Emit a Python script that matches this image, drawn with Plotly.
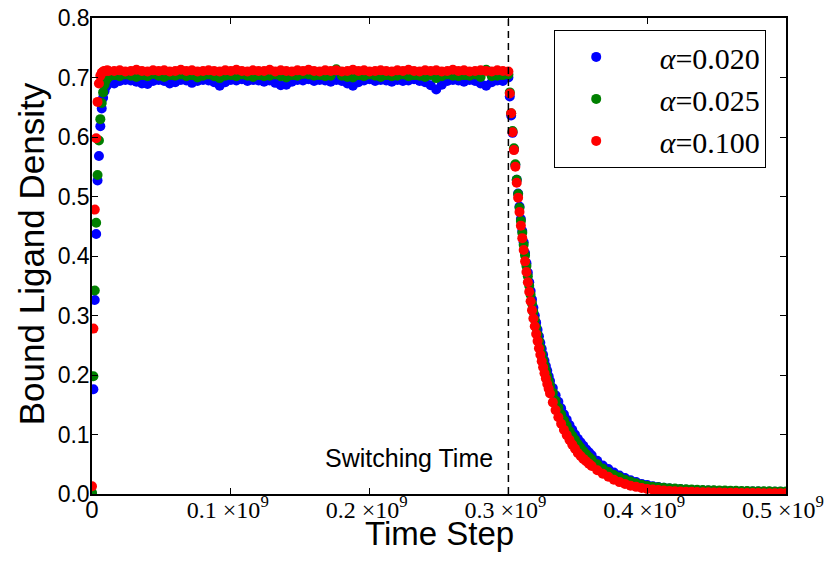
import plotly.graph_objects as go

# ---------------- data (time in units of 10^6 steps) ----------------
SWITCH_TIME_MSTEPS = 300
TIME_MSTEPS = (list(range(0, 13)) + list(range(16, 297, 4)) + list(range(300, 331))
               + list(range(332, 361, 2)) + list(range(364, 501, 4)))

SERIES_LABELS = ["α=0.020", "α=0.025", "α=0.100"]
SERIES_COLORS = ["#0000ff", "#008000", "#ff0000"]

BLUE_020 = (
    # rise (t = 0..12)
    [0.000, 0.176, 0.326, 0.437, 0.527, 0.568, 0.618, 0.648, 0.666, 0.677, 0.684, 0.688, 0.690]
    # plateau (t = 16..296 step 4)
    + [0.690, 0.694, 0.696, 0.695, 0.693, 0.690, 0.689, 0.694, 0.696, 0.694,
       0.690, 0.692, 0.696, 0.695, 0.691, 0.694, 0.696, 0.695, 0.692, 0.686,
       0.692, 0.696, 0.695, 0.697, 0.694, 0.696, 0.695, 0.693, 0.695, 0.691,
       0.687, 0.688, 0.693, 0.696, 0.695, 0.697, 0.694, 0.696, 0.695, 0.693,
       0.696, 0.694, 0.690, 0.686, 0.692, 0.695, 0.697, 0.694, 0.696, 0.695,
       0.693, 0.696, 0.694, 0.695, 0.697, 0.694, 0.692, 0.687, 0.680, 0.688,
       0.694, 0.696, 0.695, 0.693, 0.696, 0.694, 0.690, 0.686, 0.692, 0.695, 0.694]
    # decay (t = 300..330)
    + [0.700, 0.668, 0.636, 0.607, 0.579, 0.553, 0.528, 0.505, 0.483, 0.462,
       0.442, 0.423, 0.405, 0.388, 0.372, 0.356, 0.341, 0.327, 0.313, 0.300,
       0.288, 0.276, 0.265, 0.254, 0.244, 0.234, 0.224, 0.215, 0.207, 0.198, 0.190]
    # t = 332..360 step 2
    + [0.178, 0.166, 0.155, 0.144, 0.134, 0.125, 0.116, 0.108, 0.100, 0.093,
       0.087, 0.081, 0.075, 0.070, 0.065]
    # t = 364..500 step 4
    + [0.056, 0.048, 0.042, 0.036, 0.031, 0.027, 0.023, 0.020, 0.017, 0.015,
       0.0130, 0.0116, 0.0104, 0.0094, 0.0086, 0.0079, 0.0073, 0.0068, 0.0064, 0.0060,
       0.0057, 0.0054, 0.0051, 0.0049, 0.0047, 0.0045, 0.0043, 0.0042, 0.0041, 0.0040,
       0.0039, 0.0038, 0.0037, 0.0036, 0.0035]
)

GREEN_025 = (
    [0.002, 0.198, 0.342, 0.456, 0.536, 0.594, 0.630, 0.657, 0.675, 0.688, 0.695, 0.699, 0.701]
    + [0.704, 0.702, 0.705, 0.703, 0.701, 0.704, 0.702, 0.706, 0.703, 0.701,
       0.704, 0.703, 0.705, 0.702, 0.704, 0.700, 0.703, 0.705, 0.702, 0.699,
       0.703, 0.704, 0.702, 0.705, 0.703, 0.701, 0.704, 0.702, 0.703, 0.705,
       0.702, 0.700, 0.704, 0.703, 0.706, 0.705, 0.703, 0.704, 0.702, 0.703,
       0.714, 0.703, 0.701, 0.700, 0.704, 0.702, 0.705, 0.703, 0.701, 0.704,
       0.702, 0.703, 0.705, 0.702, 0.704, 0.703, 0.701, 0.704, 0.699, 0.702,
       0.705, 0.703, 0.702, 0.704, 0.703, 0.705, 0.701, 0.713, 0.702, 0.703, 0.704]
    + [0.705, 0.675, 0.640, 0.610, 0.581, 0.554, 0.528, 0.504, 0.481, 0.459,
       0.439, 0.419, 0.401, 0.383, 0.366, 0.350, 0.335, 0.320, 0.306, 0.293,
       0.280, 0.268, 0.257, 0.246, 0.235, 0.225, 0.216, 0.207, 0.198, 0.190, 0.182]
    + [0.170, 0.157, 0.145, 0.134, 0.124, 0.115, 0.106, 0.098, 0.091, 0.084,
       0.078, 0.072, 0.067, 0.062, 0.058]
    + [0.050, 0.043, 0.037, 0.032, 0.028, 0.024, 0.021, 0.018, 0.0155, 0.0135,
       0.0122, 0.0112, 0.0104, 0.0097, 0.0091, 0.0085, 0.0080, 0.0076, 0.0072, 0.0068,
       0.0065, 0.0062, 0.0059, 0.0057, 0.0055, 0.0053, 0.0051, 0.0049, 0.0048, 0.0047,
       0.0046, 0.0045, 0.0044, 0.0043, 0.0042]
)

RED_100 = (
    [0.013, 0.278, 0.478, 0.598, 0.659, 0.690, 0.703, 0.708, 0.710, 0.711, 0.711, 0.712, 0.711]
    + [0.711, 0.712, 0.710, 0.711, 0.713, 0.711, 0.710, 0.712, 0.711, 0.712,
       0.710, 0.711, 0.713, 0.711, 0.712, 0.710, 0.711, 0.712, 0.711, 0.710,
       0.712, 0.711, 0.713, 0.711, 0.710, 0.712, 0.711, 0.711, 0.713, 0.710,
       0.712, 0.711, 0.710, 0.712, 0.711, 0.713, 0.711, 0.710, 0.712, 0.711,
       0.712, 0.710, 0.711, 0.713, 0.711, 0.712, 0.710, 0.711, 0.712, 0.711,
       0.710, 0.712, 0.711, 0.713, 0.711, 0.710, 0.712, 0.711, 0.712, 0.710,
       0.711, 0.713, 0.711, 0.712, 0.710, 0.711, 0.712, 0.711, 0.710, 0.712, 0.711]
    + [0.710, 0.673, 0.640, 0.608, 0.578, 0.550, 0.523, 0.498, 0.474, 0.451,
       0.430, 0.410, 0.391, 0.373, 0.356, 0.340, 0.324, 0.309, 0.295, 0.282,
       0.269, 0.257, 0.245, 0.234, 0.223, 0.213, 0.203, 0.194, 0.185, 0.177, 0.169]
    + [0.154, 0.141, 0.129, 0.118, 0.108, 0.099, 0.091, 0.083, 0.076, 0.069,
       0.064, 0.059, 0.055, 0.051, 0.047]
    + [0.040, 0.034, 0.029, 0.024, 0.020, 0.017, 0.014, 0.012, 0.010, 0.0085,
       0.0075, 0.0066, 0.0058, 0.0052, 0.0047, 0.0043, 0.0039, 0.0036, 0.0033, 0.0030,
       0.0028, 0.0026, 0.0024, 0.0022, 0.0021, 0.0019, 0.0018, 0.0017, 0.0016, 0.0015,
       0.0014, 0.0013, 0.0013, 0.0012, 0.0012]
)

X_TICK_VALUES_MSTEPS = [0, 100, 200, 300, 400, 500]
X_TICK_LABELS = ["<span style=\"font-family:'Liberation Sans'\">0</span>",
                 "0.1 ×10<sup>9</sup>\u00a0", "0.2 ×10<sup>9</sup>\u00a0", "0.3 ×10<sup>9</sup>\u00a0",
                 "0.4 ×10<sup>9</sup>\u00a0", "0.5 ×10<sup>9</sup>\u00a0"]
Y_TICK_VALUES = [0.0, 0.1, 0.2, 0.3, 0.4, 0.5, 0.6, 0.7, 0.8]

STEPS_PER_UNIT = 1e6

# ---------------- figure ----------------
time_steps = [t * STEPS_PER_UNIT for t in TIME_MSTEPS]
fig = go.Figure()
for i, (label, color, values) in enumerate(zip(SERIES_LABELS, SERIES_COLORS,
                                                [BLUE_020, GREEN_025, RED_100])):
    assert len(values) == len(TIME_MSTEPS)
    fig.add_trace(go.Scatter(
        x=time_steps, y=values, mode="markers",
        name="\u00a0\u00a0\u00a0<i>α</i>" + label[1:], legendgroup=f"g{i}",
        marker=dict(color=color, size=10, line=dict(width=0)),
    ))

fig.add_vline(x=SWITCH_TIME_MSTEPS * STEPS_PER_UNIT,
              line=dict(color="black", width=1.5, dash="7px,5px"))
fig.add_annotation(x=SWITCH_TIME_MSTEPS * STEPS_PER_UNIT, xref="x", y=0.076, yref="paper",
                   xanchor="right", yanchor="middle", xshift=-13, showarrow=False,
                   text="Switching Time",
                   font=dict(family="Liberation Sans", size=25, color="black"))

# axis titles
fig.add_annotation(x=0.5, xref="paper", y=-0.082, yref="paper", xanchor="center",
                   yanchor="middle", showarrow=False, text="Time Step",
                   font=dict(family="Liberation Sans", size=33, color="black"))
fig.add_annotation(x=-0.087, xref="paper", y=0.505, yref="paper", xanchor="center",
                   yanchor="middle", showarrow=False, text="Bound Ligand Density",
                   textangle=-90,
                   font=dict(family="Liberation Sans", size=35, color="black"))

axis_common = dict(showline=True, linecolor="black", linewidth=1.5, mirror="allticks",
                   ticks="inside", ticklen=6, tickwidth=1.2, tickcolor="black",
                   showgrid=False, zeroline=False, automargin=False,
                   ticklabeloverflow="allow")

fig.update_xaxes(range=[0, 500 * STEPS_PER_UNIT],
                 tickvals=[v * STEPS_PER_UNIT for v in X_TICK_VALUES_MSTEPS],
                 ticktext=X_TICK_LABELS,
                 tickfont=dict(family="Liberation Serif", size=24, color="black"),
                 ticklabelstandoff=-7,
                 **axis_common)
fig.update_yaxes(range=[0, 0.8], tickvals=Y_TICK_VALUES, tickformat=".1f",
                 tickfont=dict(family="Liberation Sans", size=23, color="black"),
                 ticklabelstandoff=-4,
                 **axis_common)

fig.update_layout(
    width=827, height=567,
    margin=dict(l=92, r=41, t=18, b=73),
    paper_bgcolor="white", plot_bgcolor="white",
    legend=dict(x=0.666, y=0.975, xanchor="left", yanchor="top",
                bordercolor="black", borderwidth=1, bgcolor="white",
                font=dict(family="Liberation Serif", size=30, color="black"),
                itemwidth=72, tracegroupgap=0),
)

fig.write_html("out.html", config={"displayModeBar": False},
               post_script="document.body.style.margin='0';document.body.style.overflow='hidden';")
